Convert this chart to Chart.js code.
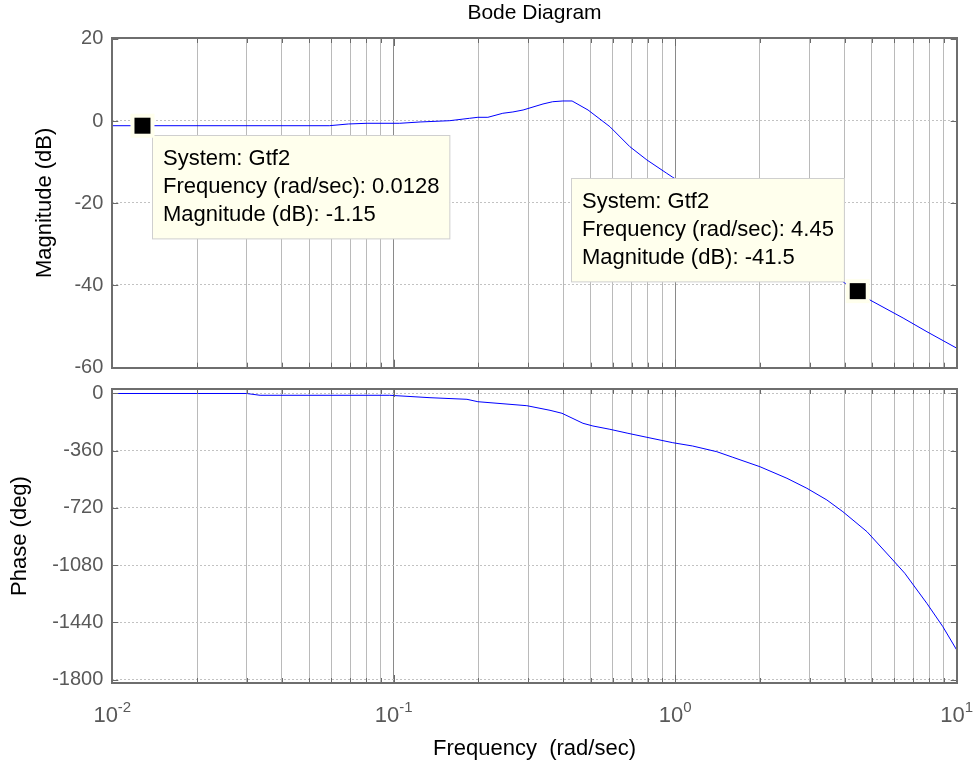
<!DOCTYPE html>
<html>
<head>
<meta charset="utf-8">
<script src="https://cdn.jsdelivr.net/npm/chart.js@4/dist/chart.umd.min.js"></script>
<style>
  html, body { margin: 0; padding: 0; background: #fff; }
  #wrap { position: relative; width: 973px; height: 771px; overflow: hidden; }
  canvas { position: absolute; left: 0; }
  #magCanvas { top: 0; }
  #phaseCanvas { top: 380px; }
</style>
</head>
<body>
<div id="wrap">
  <canvas id="magCanvas" width="973" height="380"></canvas>
  <canvas id="phaseCanvas" width="973" height="391"></canvas>
</div>
<script>
// Frequency response of Gtf2 (frequency in rad/sec)
const magFreq = [0.01, 0.0128, 0.059, 0.069, 0.0804, 0.105, 0.124, 0.158, 0.186, 0.199, 0.216,
                 0.244, 0.265, 0.288, 0.339, 0.367, 0.399, 0.430, 0.490, 0.586, 0.690, 0.793,
                 0.933, 0.980, 3.94, 4.45, 4.92, 6.45, 7.84, 10];
const magDb = [-1.15, -1.15, -1.15, -0.73, -0.56, -0.56, -0.24, 0.07, 0.66, 0.9, 0.9,
               1.88, 2.2, 2.68, 4.15, 4.7, 4.88, 4.88, 2.68, -1.39, -6.27, -9.5,
               -12.76, -13.73, -39.2, -41.5, -43.66, -48.05, -51.4, -55.4];

const phaseFreq = [0.01, 0.030, 0.0335, 0.0968, 0.1345, 0.182, 0.199, 0.297, 0.359, 0.396,
                   0.470, 0.510, 0.586, 0.679, 0.793, 0.980, 1.153, 1.405, 1.602, 1.999,
                   2.494, 2.936, 3.458, 3.94, 4.80, 5.93, 6.54, 7.83, 8.93, 10];
const phaseDeg = [0, 0, -11.3, -11.3, -26.4, -36.5, -51.6, -76.7, -105.7, -124.5,
                  -187.4, -204.4, -225.1, -250.3, -275.5, -309.4, -330.2, -366, -401.2, -460.4,
                  -533.3, -596.2, -669.8, -743.4, -869.1, -1047, -1130.8, -1319.5, -1466.6, -1613.1];

// Axis ticks
const magTicks = [-60, -40, -20, 0, 20];
const phaseTicks = [-1800, -1440, -1080, -720, -360, 0];
const decades = [0.01, 0.1, 1, 10];
const decadeExponents = ['-2', '-1', '0', '1'];
const gridMultipliers = [1, 2, 3, 4, 5, 6, 7, 8, 9];

// Data tips placed on the magnitude curve
const tipSystem = ['Gtf2', 'Gtf2'];
const tipFreq = [0.0128, 4.45];
const tipMag = [-1.15, -41.5];
const tipPlacement = ['below-right', 'above-left'];

const FONT = '"Liberation Sans", Arial, Helvetica, sans-serif';
Chart.defaults.font.family = FONT;
Chart.defaults.animation = false;

// log grid positions: 1..9 x each decade, plus the last decade
const freqGrid = [];
decades.slice(0, -1).forEach(d => gridMultipliers.forEach(m => freqGrid.push(m * d)));
freqGrid.push(decades[decades.length - 1]);

const isDecade = v => Math.abs(Math.log10(v) - Math.round(Math.log10(v))) < 1e-6;

function points(xs, ys) { return xs.map((x, i) => ({ x, y: ys[i] })); }

function freqAxis(height, title) {
  return {
    type: 'logarithmic',
    min: decades[0],
    max: decades[decades.length - 1],
    afterBuildTicks: s => { s.ticks = freqGrid.map(v => ({ value: v, major: isDecade(v) })); },
    ticks: { display: false },
    grid: {
      drawTicks: false,
      lineWidth: 1,
      color: c => (c.tick && isDecade(c.tick.value)) ? '#8a8a8a' : '#bababa'
    },
    border: { display: false },
    title: title ? {
      display: true, text: title, color: '#000',
      font: { size: 22 }, padding: { top: 0, bottom: 8.5 }
    } : { display: false },
    afterFit: s => { s.height = height; s.paddingLeft = 0; s.paddingRight = 0; }
  };
}

function valueAxis(min, max, tickValues, width, title) {
  return {
    type: 'linear',
    min, max,
    afterBuildTicks: s => { s.ticks = tickValues.map(v => ({ value: v })); },
    ticks: { font: { size: 20 }, color: '#595959', padding: 9, callback: v => String(v) },
    grid: { drawTicks: false, lineWidth: 1, color: '#c2c2c2' },
    border: { display: false, dash: [2, 2] },
    title: { display: true, text: title, color: '#000', font: { size: 22 }, padding: 0 },
    afterFit: s => { s.width = width; s.paddingTop = 0; s.paddingBottom = 0; }
  };
}

// axes box with inward tick marks on every side
const framePlugin = {
  id: 'frame',
  afterDatasetsDraw(chart) {
    const { ctx, chartArea: a, scales } = chart;
    ctx.save();
    ctx.strokeStyle = '#6a6a6a';
    ctx.lineWidth = 1;
    ctx.beginPath();
    scales.y.ticks.forEach(t => {
      const y = Math.round(scales.y.getPixelForValue(t.value)) + 0.5;
      ctx.moveTo(a.left, y); ctx.lineTo(a.left + 6, y);
      ctx.moveTo(a.right, y); ctx.lineTo(a.right - 6, y);
    });
    scales.x.ticks.forEach(t => {
      const x = Math.round(scales.x.getPixelForValue(t.value)) + 0.5;
      const len = isDecade(t.value) ? 8 : 5;
      ctx.moveTo(x, a.top); ctx.lineTo(x, a.top + len);
      ctx.moveTo(x, a.bottom); ctx.lineTo(x, a.bottom - len);
    });
    ctx.stroke();
    ctx.lineWidth = 2;
    ctx.strokeStyle = '#6e6e6e';
    ctx.strokeRect(Math.round(a.left), Math.round(a.top), Math.round(a.right) - Math.round(a.left), Math.round(a.bottom) - Math.round(a.top));
    ctx.restore();
  }
};

// 10^n labels under the frequency axis
const decadeLabelPlugin = {
  id: 'decadeLabels',
  afterDraw(chart) {
    const { ctx, chartArea: a, scales } = chart;
    ctx.save();
    ctx.fillStyle = '#595959';
    ctx.textBaseline = 'alphabetic';
    ctx.textAlign = 'left';
    decades.forEach((d, i) => {
      const x = scales.x.getPixelForValue(d);
      ctx.font = '22px ' + FONT;
      const wb = ctx.measureText('10').width;
      ctx.font = '15px ' + FONT;
      const we = ctx.measureText(decadeExponents[i]).width;
      const start = x - (wb + we) / 2;
      ctx.font = '22px ' + FONT;
      ctx.fillText('10', start, a.bottom + 38.7);
      ctx.font = '15px ' + FONT;
      ctx.fillText(decadeExponents[i], start + wb, a.bottom + 28.5);
    });
    ctx.restore();
  }
};

// data tip markers and their info boxes
const dataTipPlugin = {
  id: 'dataTips',
  afterDraw(chart) {
    const { ctx, scales } = chart;
    ctx.save();
    tipFreq.forEach((f, i) => {
      const px = scales.x.getPixelForValue(f);
      const py = scales.y.getPixelForValue(tipMag[i]);
      const lines = [
        'System: ' + tipSystem[i],
        'Frequency (rad/sec): ' + f,
        'Magnitude (dB): ' + tipMag[i]
      ];
      ctx.font = '22px ' + FONT;
      const w = Math.max(...lines.map(s => ctx.measureText(s).width)) + 21;
      const lh = 27.8;
      const h = lines.length * lh + 20;
      let bx, by;
      if (tipPlacement[i] === 'below-right') { bx = px + 10; by = py + 9.5; }
      else { bx = px - 13.8 - w; by = py - 9.7 - h; }
      bx = Math.round(bx) + 0.5; by = Math.round(by) + 0.5;
      ctx.fillStyle = '#ffffed';
      ctx.fillRect(bx, by, w, h);
      ctx.strokeStyle = '#cfcfcf';
      ctx.lineWidth = 1;
      ctx.strokeRect(bx, by, w, h);
      ctx.fillStyle = '#000';
      ctx.textBaseline = 'middle';
      ctx.textAlign = 'left';
      lines.forEach((s, k) => ctx.fillText(s, bx + 10.5, by + 10 + lh * (k + 0.5)));
      // marker
      ctx.fillStyle = '#ffffed';
      ctx.fillRect(px - 12, py - 12, 24, 24);
      ctx.fillStyle = '#000';
      ctx.fillRect(px - 8, py - 8, 16, 16);
    });
    ctx.restore();
  }
};

const lineStyle = { borderColor: '#0000ff', borderWidth: 1, pointRadius: 0, tension: 0, fill: false };

new Chart(document.getElementById('magCanvas'), {
  type: 'line',
  data: { datasets: [{ label: 'Gtf2', data: points(magFreq, magDb), ...lineStyle }] },
  options: {
    responsive: false,
    devicePixelRatio: 1,
    layout: { padding: { left: 31.8, right: 16.3, top: 0, bottom: 0 } },
    plugins: {
      legend: { display: false },
      tooltip: { enabled: false },
      title: {
        display: true, text: 'Bode Diagram', fullSize: false, color: '#000',
        font: { size: 21, weight: 'normal' }, padding: { top: 0.4, bottom: 12.4 }
      }
    },
    scales: {
      x: freqAxis(12.3, null),
      y: valueAxis(-60.17, 20.24, magTicks, 80.5, 'Magnitude (dB)')
    }
  },
  plugins: [framePlugin, dataTipPlugin]
});

new Chart(document.getElementById('phaseCanvas'), {
  type: 'line',
  data: { datasets: [{ label: 'Gtf2', data: points(phaseFreq, phaseDeg), ...lineStyle }] },
  options: {
    responsive: false,
    devicePixelRatio: 1,
    layout: { padding: { left: 6.8, right: 16.3, top: 9, bottom: 0 } },
    plugins: { legend: { display: false }, tooltip: { enabled: false } },
    scales: {
      x: freqAxis(88, 'Frequency  (rad/sec)'),
      y: valueAxis(-1820.8, 28.3, phaseTicks, 105.5, 'Phase (deg)')
    }
  },
  plugins: [framePlugin, decadeLabelPlugin]
});
</script>
</body>
</html>
